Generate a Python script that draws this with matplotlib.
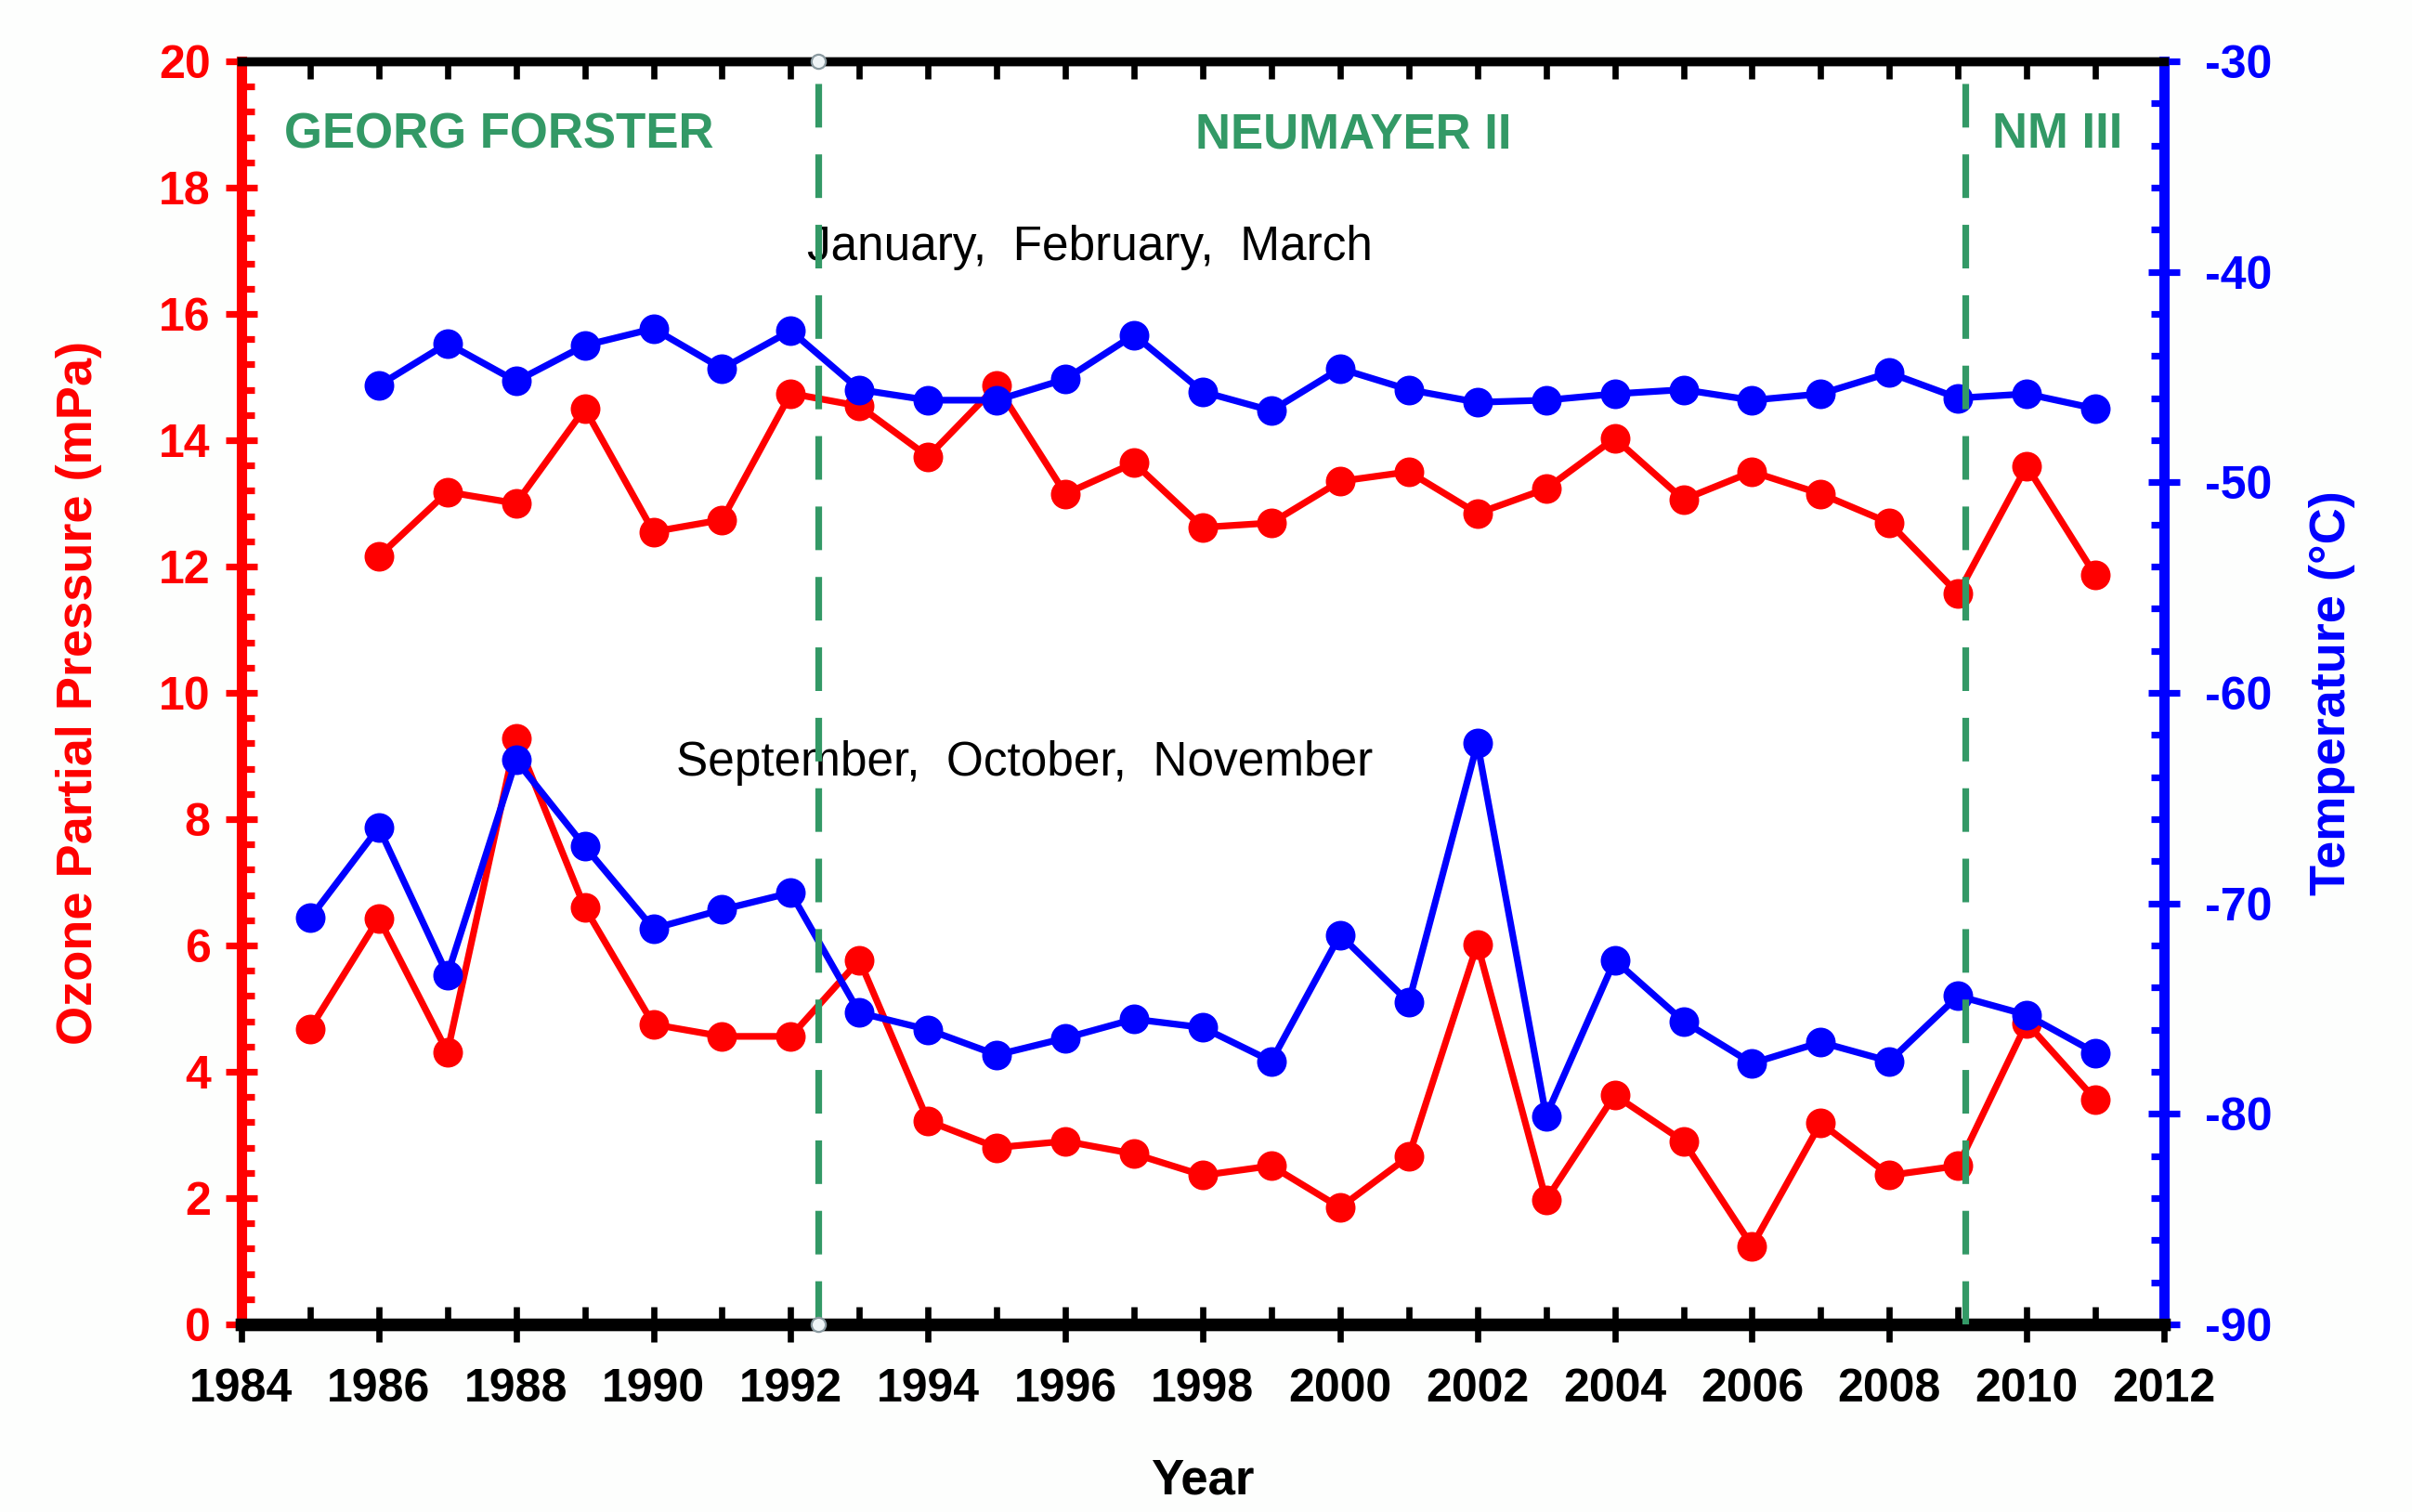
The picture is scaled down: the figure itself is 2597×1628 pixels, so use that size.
"""
Ozone partial pressure and temperature at the Antarctic stations,
Jan-Feb-Mar and Sep-Oct-Nov means, 1985-2011
"""
import numpy as np
import matplotlib.pyplot as plt
from matplotlib.ticker import MultipleLocator

plt.rcParams['font.family'] = ['Liberation Sans', 'DejaVu Sans']
plt.rcParams['axes.unicode_minus'] = False

# years
years_jfm = list(range(1986, 2012))
years_son = list(range(1985, 2012))

# ozone partial pressure (mPa)
ozone_jfm = [12.16, 13.18, 13.0, 14.5, 12.55, 12.74, 14.74, 14.54, 13.74, 14.86,
             13.15, 13.64, 12.62, 12.69, 13.35, 13.5, 12.84, 13.23, 14.03, 13.06,
             13.5, 13.15, 12.69, 11.57, 13.59, 11.86]
ozone_son = [4.68, 6.43, 4.31, 9.28, 6.6, 4.75, 4.56, 4.56, 5.77, 3.22, 2.8,
             2.9, 2.7, 2.36, 2.51, 1.85, 2.66, 6.02, 1.97, 3.63, 2.9, 1.24,
             3.19, 2.36, 2.51, 4.77, 3.56]

# temperature (deg C)
temp_jfm = [-45.4, -43.4, -45.2, -43.5, -42.7, -44.6, -42.8, -45.6, -46.1, -46.1,
            -45.1, -43.0, -45.7, -46.6, -44.6, -45.6, -46.2, -46.1, -45.8, -45.6,
            -46.1, -45.8, -44.8, -46.0, -45.8, -46.5]
temp_son = [-70.7, -66.4, -73.4, -63.2, -67.3, -71.2, -70.3, -69.5, -75.2, -76.0,
            -77.2, -76.4, -75.5, -75.9, -77.5, -71.5, -74.7, -62.4, -80.1, -72.7,
            -75.6, -77.6, -76.6, -77.5, -74.4, -75.3, -77.1]

# station changes
station_changes = [1992.4, 2009.1]
stations = ['GEORG FORSTER', 'NEUMAYER II', 'NM III']
station_x = [1987.75, 2000.2, 2010.45]

RED = '#ff0000'
BLUE = '#0000ff'
GREEN = '#339966'

fig = plt.figure(figsize=(12.985, 8.14), dpi=200)
ax = fig.add_axes([0.1001, 0.1241, 0.7971, 0.8354])
ax2 = ax.twinx()

ax.set_xlim(1984, 2012)
ax.set_ylim(0, 20)
ax2.set_ylim(-90, -30)

# data
ax.plot(years_jfm, ozone_jfm, '-o', color=RED, lw=2.6, ms=10.5, zorder=3)
ax.plot(years_son, ozone_son, '-o', color=RED, lw=2.6, ms=10.5, zorder=3)
ax2.plot(years_jfm, temp_jfm, '-o', color=BLUE, lw=2.6, ms=10.5, zorder=3)
ax2.plot(years_son, temp_son, '-o', color=BLUE, lw=2.6, ms=10.5, zorder=3)

# station change lines
for xc in station_changes:
    ax2.axvline(xc, color=GREEN, lw=2.6, dashes=(6.5, 4), zorder=4)
ax2.plot([station_changes[0]] * 2, [-30, -90], 'o', ms=5.5, mfc='#eef4f6',
         mec='#8a9aa0', mew=0.8, clip_on=False, zorder=6)

for name, xs in zip(stations, station_x):
    ax.text(xs, 18.83, name, color=GREEN, fontsize=19, fontweight='bold',
            ha='center', va='center')
ax.text(1996.35, 17.05, 'January,  February,  March', fontsize=18.5,
        ha='center', va='center')
ax.text(1995.4, 8.89, 'September,  October,  November', fontsize=18.5,
        ha='center', va='center')

# x axis
ax.xaxis.set_major_locator(MultipleLocator(2))
ax.xaxis.set_minor_locator(MultipleLocator(1))
ax.tick_params(axis='x', which='major', direction='inout', length=14, width=2.4,
               labelsize=18, pad=10)
ax.tick_params(axis='x', which='minor', direction='in', length=7, width=2.4)
for lab in ax.get_xticklabels():
    lab.set_fontweight('bold')
ax.set_xlabel('Year', fontsize=19, fontweight='bold', labelpad=18)

top = ax.secondary_xaxis('top')
top.set_xticks(list(range(1984, 2013)))
top.tick_params(direction='in', length=7, width=2.4, labeltop=False)
top.spines['top'].set_visible(False)

# left axis
ax.yaxis.set_major_locator(MultipleLocator(2))
ax.yaxis.set_minor_locator(MultipleLocator(0.4))
ax.tick_params(axis='y', which='major', direction='inout', length=12, width=2.6,
               colors=RED, labelsize=18, pad=6)
ax.tick_params(axis='y', which='minor', direction='in', length=5, width=2.6,
               colors=RED)
for lab in ax.get_yticklabels():
    lab.set_fontweight('bold')
ax.set_ylabel('Ozone Partial Pressure (mPa)', color=RED, fontsize=19.5,
              fontweight='bold', labelpad=22)

# right axis
ax2.yaxis.set_major_locator(MultipleLocator(10))
ax2.yaxis.set_minor_locator(MultipleLocator(2))
ax2.tick_params(axis='y', which='major', direction='inout', length=12, width=2.6,
                colors=BLUE, labelsize=18, pad=10)
ax2.tick_params(axis='y', which='minor', direction='in', length=5, width=2.6,
                colors=BLUE)
for lab in ax2.get_yticklabels():
    lab.set_fontweight('bold')
ax2.set_ylabel('Temperature (\u00b0C)', color=BLUE, fontsize=19.5,
               fontweight='bold', labelpad=14)

# spines
for a in (ax, ax2):
    a.spines['bottom'].set_linewidth(4.8)
    a.spines['bottom'].set_color('black')
    a.spines['top'].set_linewidth(3.4)
    a.spines['top'].set_color('black')
ax.spines['left'].set_color(RED)
ax.spines['left'].set_linewidth(4.0)
ax.spines['right'].set_visible(False)
ax2.spines['left'].set_visible(False)
ax2.spines['right'].set_color(BLUE)
ax2.spines['right'].set_linewidth(4.0)

fig.savefig('out.png', dpi=200, facecolor='#fdfefd')
